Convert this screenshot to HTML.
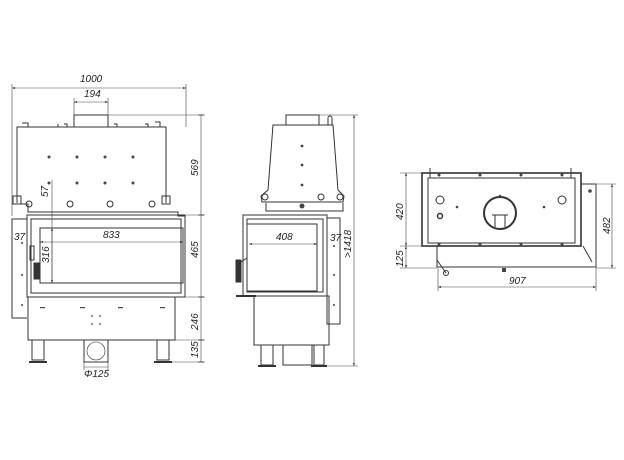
<!DOCTYPE html>
<html><head><meta charset="utf-8"><style>
html,body{margin:0;padding:0;background:#fff}
svg{display:block}
text{font-family:"Liberation Sans",sans-serif;font-style:italic;font-size:10px;fill:#222}
</style></head><body>
<svg width="624" height="460" viewBox="0 0 624 460" xmlns="http://www.w3.org/2000/svg">
<defs>
<marker id="a" viewBox="0 0 6 6" refX="6" refY="3" markerWidth="5" markerHeight="5" orient="auto-start-reverse"><path d="M0,1 L6,3 L0,5z" fill="#333"/></marker>
</defs>
<g fill="none" stroke="#333" stroke-width="1">
<!-- FRONT VIEW -->
<rect x="74" y="115" width="34" height="12"/>
<path d="M17,203 L17,127 L166,127 L166,203"/>
<path d="M22,123 h6 v4 M58,124 v3 M64,124 h3 v3 M114,124 h3 v3 M145,124 h3 v3 M155,122 h5 v5"/>
<rect x="13" y="196" width="8" height="8"/><rect x="162" y="196" width="8" height="8"/>
<path d="M12,204 h16 v8 h150 v4 h7"/>
<rect x="27" y="215" width="158" height="82"/>
<rect x="31" y="219" width="150" height="74"/>
<rect x="40" y="228" width="143" height="55"/>
<path d="M27,219 H12 V318 H27"/>
<rect x="28" y="297" width="147" height="43"/>
<path d="M32,340 v20 h12 v-20 M157,340 v20 h12 v-20"/>
<path d="M29,362 h18 M154,362 h18" stroke-width="2"/>
<rect x="84" y="340" width="24" height="22"/>
<circle cx="96" cy="351" r="9" stroke-width="0.6"/>
<rect x="34" y="263" width="5" height="16" fill="#333"/>
<rect x="30" y="246" width="4" height="14"/>
</g>
<g fill="#444">
<circle cx="49" cy="157" r="1.5"/><circle cx="77" cy="157" r="1.5"/><circle cx="105" cy="157" r="1.5"/><circle cx="133" cy="157" r="1.5"/>
<circle cx="49" cy="183" r="1.5"/><circle cx="77" cy="183" r="1.5"/><circle cx="105" cy="183" r="1.5"/><circle cx="133" cy="183" r="1.5"/>
<circle cx="29" cy="204" r="3" fill="none" stroke="#333"/><circle cx="70" cy="204" r="3" fill="none" stroke="#333"/><circle cx="110" cy="204" r="3" fill="none" stroke="#333"/><circle cx="152" cy="204" r="3" fill="none" stroke="#333"/>
<rect x="40" y="307" width="5" height="1.2"/><rect x="80" y="307" width="5" height="1.2"/><rect x="118" y="307" width="5" height="1.2"/><rect x="160" y="307" width="5" height="1.2"/>
<circle cx="92" cy="316" r="0.9"/><circle cx="100" cy="316" r="0.9"/><circle cx="92" cy="324" r="0.9"/><circle cx="100" cy="324" r="0.9"/>
<circle cx="22" cy="243" r="1"/><circle cx="22" cy="275" r="1"/><circle cx="22" cy="305" r="1"/>
</g>
<!-- front dims -->
<g fill="none" stroke="#444" stroke-width="0.6">
<path d="M12,88 H186" marker-start="url(#a)" marker-end="url(#a)"/>
<path d="M12,84 V216 M186,84 V127"/>
<path d="M74,102 H108" marker-start="url(#a)" marker-end="url(#a)"/>
<path d="M74,98 V115 M108,98 V115"/>
<path d="M108,115 H205 M185,215 H205 M185,297 H205 M175,340 H205 M172,362 H205"/>
<path d="M201,115 V362"/>
<path d="M198,115 l6,0 M198,215 h6 M198,297 h6 M198,340 h6 M198,362 h6" stroke-width="1"/>
<path d="M40,242 H183" marker-start="url(#a)" marker-end="url(#a)"/>
<path d="M52,180 V283" /><path d="M52,228 V283" marker-start="url(#a)" marker-end="url(#a)"/>
<path d="M84,362 V370 M108,362 V370 M84,367 H108"/>
</g>
<text x="80" y="82">1000</text>
<text x="84" y="97">194</text>
<text x="103" y="238">833</text>
<text x="14" y="240">37</text>
<text x="84" y="377">Φ125</text>
<text transform="translate(49,263) rotate(-90)">316</text>
<text transform="translate(48,197) rotate(-90)">57</text>
<text transform="translate(198,176) rotate(-90)">569</text>
<text transform="translate(198,258) rotate(-90)">465</text>
<text transform="translate(198,330) rotate(-90)">246</text>
<text transform="translate(198,358) rotate(-90)">135</text>

<!-- SIDE VIEW -->
<g fill="none" stroke="#333" stroke-width="1">
<rect x="286" y="115" width="33" height="10"/>
<path d="M328,125 v-7 a2,2 0 0 1 4,0 v7"/>
<path d="M273,125 H333 L338,190 L344,196 L343,202 L262,202 L261,196 L268,190 Z"/>
<circle cx="265" cy="197" r="3"/><circle cx="340" cy="197" r="3"/><circle cx="321" cy="197" r="3"/>
<path d="M266,203 v8 h77 v-8"/>
<rect x="243" y="215" width="84" height="81"/>
<rect x="247" y="219" width="76" height="73"/>
<rect x="247" y="224" width="70" height="67"/>
<rect x="327" y="218" width="13" height="106"/>
<rect x="254" y="296" width="75" height="49"/>
<path d="M261,345 v20 h12 v-20 M314,345 v20 h10 v-20"/>
<path d="M258,366 h18 M311,366 h16" stroke-width="2"/>
<rect x="283" y="345" width="29" height="20"/>
<path d="M236,296 h20" stroke-width="2"/>
<rect x="236" y="260" width="5" height="22" fill="#333"/>
<path d="M241,262 l6,-4"/>
</g>
<g fill="#444"><circle cx="302" cy="146" r="1.4"/><circle cx="302" cy="165" r="1.4"/><circle cx="302" cy="185" r="1.4"/><circle cx="334" cy="246" r="1"/><circle cx="334" cy="275" r="1"/><circle cx="334" cy="305" r="1"/><circle cx="302" cy="206" r="2.5"/></g>
<g fill="none" stroke="#444" stroke-width="0.6">
<path d="M319,115 H358 M327,366 H358"/>
<path d="M354,115 V366" marker-start="url(#a)" marker-end="url(#a)"/>
<path d="M249,244 H317" marker-start="url(#a)" marker-end="url(#a)"/>
</g>
<text x="276" y="240">408</text>
<text x="330" y="241">37</text>
<text transform="translate(351,258) rotate(-90)">&gt;1418</text>

<!-- TOP VIEW -->
<g fill="none" stroke="#333" stroke-width="1">
<rect x="422" y="173" width="159" height="73" stroke-width="1.6"/>
<rect x="428" y="178" width="147" height="65"/>
<path d="M430,168 v10 M571,168 v10"/>
<path d="M581,184 H596 V267 H437 V246 M583,246 L592,262"/>
<circle cx="500" cy="213" r="16" stroke-width="2"/>
<path d="M492,215 h16 M495,215 v12 M505,215 v12"/>
<circle cx="440" cy="200" r="4"/><circle cx="562" cy="200" r="4"/>
<circle cx="440" cy="216" r="2.5" stroke-width="1.5"/>
<circle cx="446" cy="273" r="2.5"/>
<path d="M437,260 L446,273"/>
</g>
<g fill="#444">
<circle cx="439" cy="175" r="1.5"/><circle cx="480" cy="175" r="1.5"/><circle cx="521" cy="175" r="1.5"/><circle cx="562" cy="175" r="1.5"/>
<circle cx="439" cy="244" r="1.5"/><circle cx="480" cy="244" r="1.5"/><circle cx="521" cy="244" r="1.5"/><circle cx="562" cy="244" r="1.5"/>
<circle cx="457" cy="207" r="1.3"/><circle cx="544" cy="207" r="1.3"/><circle cx="590" cy="191" r="1.8"/><circle cx="500" cy="196" r="1.3"/>
<rect x="502" y="268" width="4" height="4"/>
</g>
<g fill="none" stroke="#444" stroke-width="0.6">
<path d="M400,173 H422 M400,246 H428 M400,268 H437 M596,184 H616 M596,268 H616"/>
<path d="M406,173 V246" marker-start="url(#a)" marker-end="url(#a)"/>
<path d="M406,246 V268" marker-start="url(#a)" marker-end="url(#a)"/>
<path d="M612,184 V268" marker-start="url(#a)" marker-end="url(#a)"/>
<path d="M438,268 V291 M596,268 V291"/>
<path d="M438,287 H596" marker-start="url(#a)" marker-end="url(#a)"/>
</g>
<text transform="translate(403,220) rotate(-90)">420</text>
<text transform="translate(403,267) rotate(-90)">125</text>
<text transform="translate(610,234) rotate(-90)">482</text>
<text x="509" y="284">907</text>
</svg>
</body></html>
